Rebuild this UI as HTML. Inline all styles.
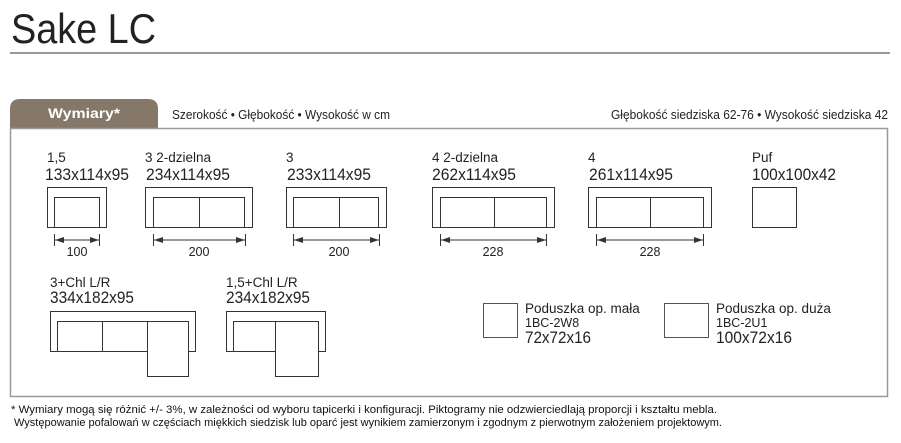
<!DOCTYPE html>
<html><head><meta charset="utf-8"><style>
html,body{margin:0;padding:0;background:#fff;}
svg{display:block;font-family:"Liberation Sans",sans-serif;}
</style></head><body>
<svg width="901" height="443" viewBox="0 0 901 443" xmlns="http://www.w3.org/2000/svg">
<text x="11" y="43" font-size="42" fill="#222" textLength="145" lengthAdjust="spacingAndGlyphs">Sake LC</text>
<line x1="10" y1="53" x2="890" y2="53" stroke="#333" stroke-width="1"/>
<path d="M10,128 V109 Q10,99 20,99 H148 Q158,99 158,109 V128 Z" fill="#857868"/>
<text x="84" y="118" font-size="14" font-weight="bold" fill="#fff" text-anchor="middle" textLength="72" lengthAdjust="spacingAndGlyphs">Wymiary*</text>
<text x="172" y="119" font-size="12.5" fill="#222" textLength="218" lengthAdjust="spacingAndGlyphs">Szerokość • Głębokość • Wysokość w cm</text>
<text x="888" y="119" font-size="12.5" fill="#222" text-anchor="end" textLength="277" lengthAdjust="spacingAndGlyphs">Głębokość siedziska 62-76 • Wysokość siedziska 42</text>
<rect x="10.5" y="128.5" width="877" height="268" fill="none" stroke="#999" stroke-width="1.5"/>
<g fill="#222">
<g font-size="13.5">
<text x="47" y="162">1,5</text>
<text x="145" y="162">3 2-dzielna</text>
<text x="286" y="162">3</text>
<text x="432" y="162">4 2-dzielna</text>
<text x="588" y="162">4</text>
<text x="752" y="162">Puf</text>
<text x="50" y="287">3+Chl L/R</text>
<text x="226" y="287">1,5+Chl L/R</text>
<text x="525" y="313">Poduszka op. mała</text>
<text x="716" y="313">Poduszka op. duża</text>
</g>
<g font-size="16.5">
<text x="45" y="180" textLength="84" lengthAdjust="spacingAndGlyphs">133x114x95</text>
<text x="146" y="180" textLength="84" lengthAdjust="spacingAndGlyphs">234x114x95</text>
<text x="287" y="180" textLength="84" lengthAdjust="spacingAndGlyphs">233x114x95</text>
<text x="432" y="180" textLength="84" lengthAdjust="spacingAndGlyphs">262x114x95</text>
<text x="589" y="180" textLength="84" lengthAdjust="spacingAndGlyphs">261x114x95</text>
<text x="752" y="180" textLength="84" lengthAdjust="spacingAndGlyphs">100x100x42</text>
<text x="50" y="303" textLength="84" lengthAdjust="spacingAndGlyphs">334x182x95</text>
<text x="226" y="303" textLength="84" lengthAdjust="spacingAndGlyphs">234x182x95</text>
<text x="525" y="343" textLength="66" lengthAdjust="spacingAndGlyphs">72x72x16</text>
<text x="716" y="343" textLength="76" lengthAdjust="spacingAndGlyphs">100x72x16</text>
</g>
<g font-size="12.5">
<text x="525" y="327">1BC-2W8</text>
<text x="716" y="327">1BC-2U1</text>
<text x="77" y="256" text-anchor="middle">100</text>
<text x="199" y="256" text-anchor="middle">200</text>
<text x="339" y="256" text-anchor="middle">200</text>
<text x="493" y="256" text-anchor="middle">228</text>
<text x="650" y="256" text-anchor="middle">228</text>
</g>
</g>
<g fill="none" stroke="#333" stroke-width="1">
<rect x="47.5" y="187.5" width="59" height="40"/><rect x="54.5" y="197.5" width="45" height="30"/>
<rect x="145.5" y="187.5" width="107" height="40"/><rect x="153.5" y="197.5" width="91" height="30"/><line x1="199.5" y1="197.5" x2="199.5" y2="227.5"/>
<rect x="286.5" y="187.5" width="100" height="40"/><rect x="293.5" y="197.5" width="85" height="30"/><line x1="339.5" y1="197.5" x2="339.5" y2="227.5"/>
<rect x="432.5" y="187.5" width="122" height="40"/><rect x="440.5" y="197.5" width="106" height="30"/><line x1="494.5" y1="197.5" x2="494.5" y2="227.5"/>
<rect x="588.5" y="187.5" width="123" height="40"/><rect x="596.5" y="197.5" width="107" height="30"/><line x1="650.5" y1="197.5" x2="650.5" y2="227.5"/>
<rect x="752.5" y="187.5" width="44" height="40"/>
<path d="M54.5,234v12M99.5,234v12M55,240H99"/>
<path d="M153.5,234v12M245.5,234v12M154,240H245"/>
<path d="M293.5,234v12M379.5,234v12M294,240H379"/>
<path d="M440.5,234v12M546.5,234v12M441,240H546"/>
<path d="M596.5,234v12M703.5,234v12M597,240H703"/>
<!-- row 2 -->
<path d="M147.5,351.5H50.5V311.5H195.5V351.5H188.5"/>
<path d="M57.5,351.5V321.5H188.5V376.5H147.5V321.5M102.5,321.5V351.5"/>
<path d="M275.5,351.5H226.5V311.5H325.5V351.5H318.5"/>
<path d="M233.5,351.5V321.5H318.5V376.5H275.5V321.5"/>
<rect x="483.5" y="303.5" width="34" height="34" stroke="#555"/>
<rect x="664.5" y="303.5" width="44" height="34" stroke="#555"/>
</g>
<g fill="#333">
<path d="M55,240l9,-3v6z M99,240l-9,-3v6z"/>
<path d="M154,240l9,-3v6z M245,240l-9,-3v6z"/>
<path d="M294,240l9,-3v6z M379,240l-9,-3v6z"/>
<path d="M441,240l9,-3v6z M546,240l-9,-3v6z"/>
<path d="M597,240l9,-3v6z M703,240l-9,-3v6z"/>
</g>
<g font-size="11" fill="#111">
<text x="11" y="413" textLength="706" lengthAdjust="spacingAndGlyphs">* Wymiary mogą się różnić +/- 3%, w zależności od wyboru tapicerki i konfiguracji. Piktogramy nie odzwierciedlają proporcji i kształtu mebla.</text>
<text x="14" y="426" textLength="708" lengthAdjust="spacingAndGlyphs">Występowanie pofalowań w częściach miękkich siedzisk lub oparć jest wynikiem zamierzonym i zgodnym z pierwotnym założeniem projektowym.</text>
</g>
</svg>
</body></html>
